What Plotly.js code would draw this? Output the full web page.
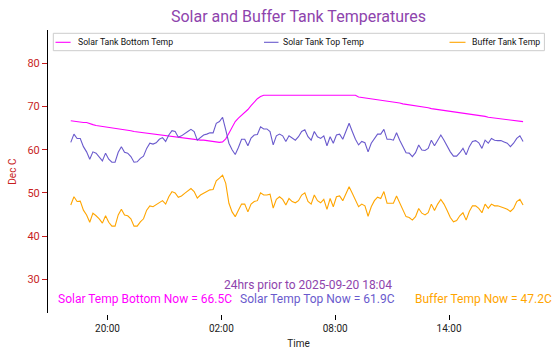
<!DOCTYPE html>
<html>
<head>
<meta charset="utf-8">
<script src="https://cdn.plot.ly/plotly-3.0.1.min.js"></script>
<style>html,body{margin:0;padding:0;background:#fff}#chart{width:558px;height:358px}</style>
</head>
<body>
<div id="chart"></div>
<script>
// ---- data (10-minute samples, 24 h window ending 2025-09-20 18:04) ----
const startTime = Date.UTC(2025, 8, 19, 18, 4);
const stepMinutes = 10;

const solarBottom = [
  66.7, 66.6, 66.4, 66.3, 66.3, 66.3, 66.0, 65.8, 65.6, 65.5,
  65.4, 65.2, 65.1, 65.0, 65.0, 64.9, 64.7, 64.6, 64.5, 64.4,
  64.2, 64.1, 64.0, 63.9, 63.8, 63.7, 63.6, 63.5, 63.4, 63.3,
  63.2, 63.1, 63.0, 63.0, 62.9, 62.8, 62.7, 62.6, 62.5, 62.4,
  62.3, 62.2, 62.2, 62.1, 62.0, 61.9, 61.8, 61.7, 61.8, 62.5,
  63.8, 65.3, 66.5, 67.3, 67.9, 68.6, 69.3, 70.2, 71.0, 71.8,
  72.3, 72.6, 72.6, 72.6, 72.6, 72.6, 72.6, 72.6, 72.6, 72.6,
  72.6, 72.6, 72.6, 72.6, 72.6, 72.6, 72.6, 72.6, 72.6, 72.6,
  72.6, 72.6, 72.6, 72.6, 72.6, 72.6, 72.6, 72.6, 72.6, 72.6,
  72.6, 72.2, 72.1, 72.0, 71.9, 71.8, 71.6, 71.5, 71.4, 71.3,
  71.2, 71.1, 71.0, 70.9, 70.8, 70.6, 70.5, 70.4, 70.3, 70.1,
  70.0, 69.9, 69.8, 69.7, 69.5, 69.4, 69.3, 69.2, 69.1, 69.0,
  68.9, 68.8, 68.7, 68.6, 68.5, 68.4, 68.3, 68.2, 68.1, 68.0,
  67.9, 67.7, 67.5, 67.4, 67.3, 67.2, 67.1, 67.0, 66.9, 66.8,
  66.7, 66.6, 66.6, 66.5
];

const solarTop = [
  61.7, 63.6, 62.6, 62.6, 60.7, 59.5, 57.8, 59.5, 59.2, 58.4,
  57.4, 59.2, 57.8, 57.1, 57.1, 59.4, 60.7, 59.4, 59.2, 58.4,
  57.1, 57.2, 58.0, 58.5,
  60.3, 61.5, 61.3, 61.6, 62.4, 62.8, 61.9, 63.4, 64.4, 64.2,
  62.9, 63.2, 63.8, 64.2, 64.7, 64.2, 62.2, 62.9, 63.4, 63.6,
  63.9, 63.9,
  66.1, 66.5, 67.5, 64.6, 61.5, 60.0, 58.9, 60.5, 62.4, 62.4,
  60.9, 62.7, 63.4, 63.5, 65.3, 64.8, 64.8, 64.2, 61.1, 63.2,
  63.6, 63.2, 61.9, 63.2, 62.6, 62.2,
  63.0, 64.2, 64.6, 63.0, 62.2, 64.2, 63.0, 62.6, 63.2, 60.9,
  63.0, 61.5, 63.4, 63.6, 62.4, 64.2, 66.1, 64.2, 62.4, 61.1,
  61.9, 61.6, 59.5, 61.5, 62.6, 63.6, 63.6, 64.7, 62.4, 62.4,
  62.2, 63.9, 62.2, 60.7, 59.3, 59.2, 58.4, 59.3, 61.1, 59.9,
  59.8, 60.3, 62.2, 60.9, 62.2, 63.4, 62.2, 60.7, 59.5, 58.5,
  58.5, 59.3, 60.3, 58.8, 60.7, 61.9, 62.1, 61.6, 60.3, 62.2,
  61.5, 62.6, 62.2, 62.1, 62.1, 61.8, 61.5, 60.7, 61.5, 62.6,
  63.2, 61.9
];

const bufferTank = [
  47.2, 49.1, 48.0, 48.1, 46.0, 44.9, 43.2, 45.3, 44.7, 44.0,
  43.0, 44.7, 43.2, 42.3, 42.3, 44.9, 46.2, 44.9, 44.7, 44.0,
  42.3, 42.3, 43.3, 44.0,
  46.0, 47.0, 46.8, 47.2, 47.7, 48.2, 47.4, 49.1, 50.3, 50.0,
  49.0, 49.3, 49.9, 50.5, 51.0, 50.3, 48.8, 49.5, 49.9, 50.3,
  50.7, 50.8,
  52.8, 53.4, 54.1, 52.2, 47.6, 45.6, 44.5, 46.0, 47.4, 47.4,
  45.6, 47.4, 48.0, 48.2, 50.0, 49.5, 49.5, 49.7, 46.5, 48.5,
  49.1, 48.5, 47.2, 48.7, 48.0, 47.7,
  48.2, 49.5, 50.0, 48.0, 47.4, 49.5, 48.2, 47.7, 48.5, 46.2,
  48.7, 46.8, 49.1, 49.3, 48.2, 49.8, 51.4, 49.9, 48.2, 46.8,
  47.4, 47.0, 44.6, 46.8, 48.2, 49.0, 48.7, 50.3, 47.6, 47.6,
  47.6, 49.3, 47.6, 46.0, 44.5, 44.3, 43.7, 44.5, 46.4, 45.3,
  44.9, 45.4, 47.4, 45.9, 47.4, 48.5, 47.4, 45.9, 44.3, 43.3,
  43.6, 44.7, 45.4, 43.7, 45.7, 47.0, 47.0, 46.4, 45.4, 47.4,
  46.4, 47.4, 47.0, 47.0, 46.8, 46.5, 46.2, 45.7, 46.4, 48.0,
  48.5, 47.2
];

const seriesNames = ['Solar Tank Bottom Temp', 'Solar Tank Top Temp', 'Buffer Tank Temp'];
const seriesColors = ['#ff00ff', '#6a5acd', '#ffa500'];
const titleText = 'Solar and Buffer Tank Temperatures';
const subtitleText = '24hrs prior to 2025-09-20 18:04';
const nowLabels = ['Solar Temp Bottom Now = ', 'Solar Temp Top Now = ', 'Buffer Temp Now = '];
const yTickVals = [30, 40, 50, 60, 70, 80];

// ---- build ----
function stamp(i) {
  return new Date(startTime + i * stepMinutes * 60000).toISOString().slice(0, 16).replace('T', ' ');
}
const times = solarBottom.map((_, i) => stamp(i));
const allSeries = [solarBottom, solarTop, bufferTank];

const traces = allSeries.map((vals, k) => ({
  type: 'scatter', mode: 'lines', name: seriesNames[k],
  x: times, y: vals,
  line: {color: seriesColors[k], width: 1.1},
  showlegend: false, hoverinfo: 'skip'
}));

// pixel helpers for paper-referenced decorations
const L = 48, R = 9, T = 30, B = 44, W = 558, H = 358;
const pw = W - L - R, ph = H - T - B;
const px = v => (v - L) / pw;
const py = v => (H - B - v) / ph;

const purple = '#8e44ad';
const red = '#c81e1e';
const font = 'Roboto, "Open Sans", sans-serif';

const shapes = [];
const annotations = [];

// legend frame
shapes.push({type: 'rect', xref: 'paper', yref: 'paper', x0: px(53.3), x1: px(544.4), y0: py(50.7), y1: py(33.3),
  line: {color: '#cccccc', width: 1}, fillcolor: 'rgba(255,255,255,0.8)', layer: 'above'});
const legLineX = [[55.5, 70.6], [264, 278.5], [449.5, 465.5]];
const legTextX = [77.7, 283, 472];
const legY = 42.3;
seriesNames.forEach((n, k) => {
  shapes.push({type: 'line', xref: 'paper', yref: 'paper', x0: px(legLineX[k][0]), x1: px(legLineX[k][1]),
    y0: py(legY), y1: py(legY), line: {color: seriesColors[k], width: 1.1}, layer: 'above'});
  annotations.push({xref: 'paper', yref: 'paper', x: px(legTextX[k] - 2), y: py(legY), xanchor: 'left', yanchor: 'middle',
    text: n, showarrow: false, font: {family: font, size: 8.7, color: '#111'}});
});

// info annotations
annotations.push({xref: 'paper', yref: 'paper', x: px(308), y: py(285), xanchor: 'center', yanchor: 'middle',
  text: subtitleText, showarrow: false, font: {family: font, size: 12, color: purple}});
const lastVals = allSeries.map(s => s[s.length - 1].toFixed(1));
annotations.push({xref: 'paper', yref: 'paper', x: px(58.4 - 2), y: py(299), xanchor: 'left', yanchor: 'middle',
  text: nowLabels[0] + lastVals[0] + 'C', showarrow: false, font: {family: font, size: 12, color: seriesColors[0]}});
annotations.push({xref: 'paper', yref: 'paper', x: px(317.5), y: py(299), xanchor: 'center', yanchor: 'middle',
  text: nowLabels[1] + lastVals[1] + 'C', showarrow: false, font: {family: font, size: 12, color: seriesColors[1]}});
annotations.push({xref: 'paper', yref: 'paper', x: px(551.6 + 2), y: py(299), xanchor: 'right', yanchor: 'middle',
  text: nowLabels[2] + lastVals[2] + 'C', showarrow: false, font: {family: font, size: 12, color: seriesColors[2]}});

const layout = {
  width: W, height: H,
  margin: {l: L, r: R, t: T, b: B, pad: 0},
  paper_bgcolor: '#ffffff', plot_bgcolor: '#ffffff',
  font: {family: font, size: 10, color: '#222'},
  title: {text: titleText, font: {family: font, size: 16, color: purple},
    x: 0.5, xref: 'paper', xanchor: 'center', y: 1 - 16.7 / H, yref: 'container', yanchor: 'middle'},
  xaxis: {
    type: 'date', range: ['2025-09-19 16:52', '2025-09-20 19:16'],
    anchor: 'free', position: 0,
    showline: false, showgrid: false, zeroline: false,
    ticks: 'outside', ticklen: 5, tickwidth: 1, tickcolor: '#000',
    tick0: '2025-09-19 02:00', dtick: 6 * 3600000, tickformat: '%H:%M',
    tickfont: {family: font, size: 10, color: '#222'},
    title: {text: 'Time', font: {family: font, size: 10, color: '#222'}, standoff: 6}
  },
  yaxis: {
    domain: [(H - B - 313.3) / ph, 1], range: [22.13, 87.7],
    showline: true, linecolor: '#000', linewidth: 1,
    showgrid: false, zeroline: false,
    ticks: 'outside', ticklen: 5, tickwidth: 1, tickcolor: red,
    tickvals: yTickVals, ticktext: yTickVals.map(String),
    tickfont: {family: font, size: 11, color: red},
    title: {text: 'Dec C', font: {family: font, size: 10, color: red}, standoff: 8}
  },
  shapes: shapes,
  annotations: annotations,
  showlegend: false
};

Plotly.newPlot('chart', traces, layout, {displayModeBar: false, staticPlot: true});
</script>
</body>
</html>
